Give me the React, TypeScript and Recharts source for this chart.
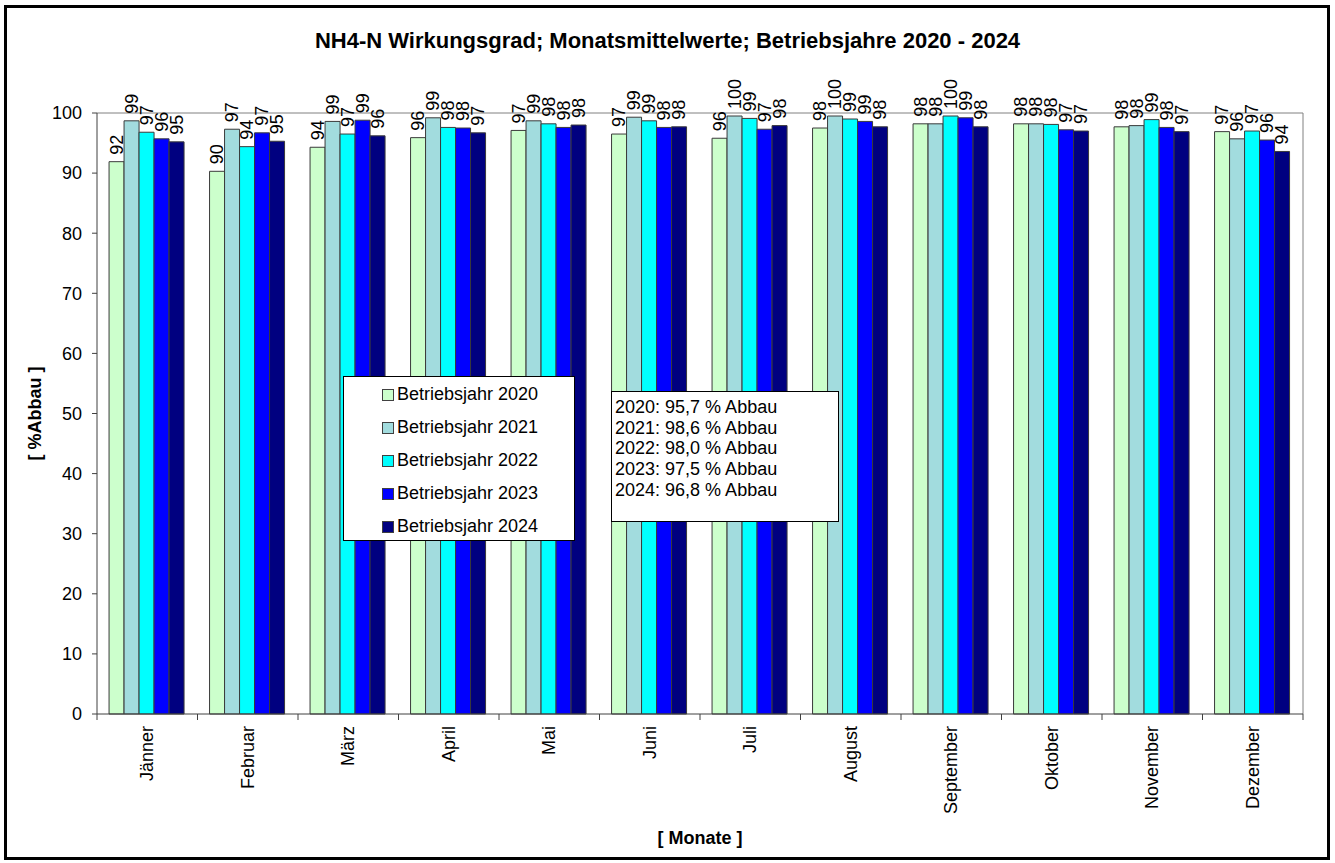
import React from 'react';
import { BarChart, Bar, XAxis, YAxis, CartesianGrid, LabelList } from 'recharts';

const months = ['Jänner', 'Februar', 'März', 'April', 'Mai', 'Juni', 'Juli', 'August', 'September', 'Oktober', 'November', 'Dezember'];

const y2020 = [91.9, 90.3, 94.3, 95.9, 97.1, 96.5, 95.8, 97.5, 98.2, 98.2, 97.7, 96.9];
const y2021 = [98.7, 97.3, 98.6, 99.2, 98.7, 99.3, 99.5, 99.5, 98.2, 98.2, 97.9, 95.7];
const y2022 = [96.8, 94.4, 96.5, 97.6, 98.2, 98.7, 99.1, 99.0, 99.5, 98.1, 98.9, 97.0];
const y2023 = [95.7, 96.7, 98.8, 97.5, 97.6, 97.6, 97.3, 98.6, 99.2, 97.2, 97.6, 95.5];
const y2024 = [95.2, 95.3, 96.2, 96.7, 98.0, 97.7, 97.9, 97.7, 97.7, 97.0, 96.9, 93.6];

const yTicks = [0, 10, 20, 30, 40, 50, 60, 70, 80, 90, 100];

const statYears = ['2020', '2021', '2022', '2023', '2024'];
const statValues = ['95,7', '98,6', '98,0', '97,5', '96,8'];

const SERIES = [
  { key: 'y2020', name: 'Betriebsjahr 2020', color: '#CCFFCC' },
  { key: 'y2021', name: 'Betriebsjahr 2021', color: '#A2DCDE' },
  { key: 'y2022', name: 'Betriebsjahr 2022', color: '#00FFFF' },
  { key: 'y2023', name: 'Betriebsjahr 2023', color: '#0000FF' },
  { key: 'y2024', name: 'Betriebsjahr 2024', color: '#000080' },
];

const data = months.map((m, i) => ({
  month: m,
  y2020: y2020[i],
  y2021: y2021[i],
  y2022: y2022[i],
  y2023: y2023[i],
  y2024: y2024[i],
}));

const FONT = '"Liberation Sans", Arial, sans-serif';

// rotated value label above each bar
const BarValueLabel = (props: any) => {
  const { x, y, width, value } = props;
  const cx = x + width / 2;
  const ty = y - 7;
  return (
    <text
      x={cx}
      y={ty}
      transform={`rotate(-90 ${cx} ${ty})`}
      textAnchor="start"
      dominantBaseline="central"
      fontSize={18}
      fontFamily={FONT}
      fill="#000"
    >
      {Math.round(value)}
    </text>
  );
};

const TICK_SIZE = 6;
const TICK_MARGIN = 2;

const MonthTick = (props: any) => {
  const { x, y, payload, index, visibleTicksCount } = props;
  const half = payload && payload.offset ? payload.offset : 50.25;
  const axisY = y - TICK_SIZE - TICK_MARGIN;
  const isLast = index === visibleTicksCount - 1;
  const ty = y + 4;
  return (
    <g>
      <line x1={x - half} y1={axisY} x2={x - half} y2={axisY + TICK_SIZE} stroke="#404040" />
      {isLast && <line x1={x + half} y1={axisY} x2={x + half} y2={axisY + TICK_SIZE} stroke="#404040" />}
      <text
        x={x}
        y={ty}
        transform={`rotate(-90 ${x} ${ty})`}
        textAnchor="end"
        dominantBaseline="central"
        fontSize={18}
        fontFamily={FONT}
        fill="#000"
      >
        {payload.value}
      </text>
    </g>
  );
};

export default function App() {
  return (
    <div style={{ position: 'relative', width: 1335, height: 863, background: '#fff', fontFamily: FONT }}>
      <style>{`body{margin:0;background:#fff}`}</style>
      <div
        style={{
          position: 'absolute',
          left: 4,
          top: 5,
          width: 1326,
          height: 855,
          border: '3px solid #000',
          boxSizing: 'border-box',
          pointerEvents: 'none',
        }}
      />
      <div
        style={{
          position: 'absolute',
          left: 0,
          width: 1335,
          top: 27,
          textAlign: 'center',
          fontSize: 22,
          fontWeight: 'bold',
          lineHeight: '28px',
        }}
      >
        NH4-N Wirkungsgrad; Monatsmittelwerte; Betriebsjahre 2020 - 2024
      </div>

      <BarChart
        width={1335}
        height={863}
        data={data}
        margin={{ top: 113, right: 32, left: 37, bottom: 14 }}
        barCategoryGap="12%"
        barGap={0}
      >
        <CartesianGrid
          stroke="#808080"
          horizontalCoordinatesGenerator={({ offset }: any) => [offset.top]}
          verticalCoordinatesGenerator={({ offset }: any) => [offset.left + offset.width]}
        />
        <XAxis
          dataKey="month"
          height={135}
          interval={0}
          tickLine={false}
          tickSize={TICK_SIZE}
          tickMargin={TICK_MARGIN}
          axisLine={{ stroke: '#404040' }}
          tick={<MonthTick />}
          label={{
            content: (p: any) => {
              const vb = p.viewBox;
              return (
                <text
                  x={vb.x + vb.width / 2}
                  y={vb.y + vb.height - 5}
                  textAnchor="middle"
                  fontSize={18}
                  fontWeight="bold"
                  fontFamily={FONT}
                  fill="#000"
                >
                  [ Monate ]
                </text>
              );
            },
          }}
        />
        <YAxis
          width={60}
          domain={[0, 100]}
          ticks={yTicks}
          interval={0}
          tickSize={5}
          tickMargin={10}
          axisLine={{ stroke: '#404040' }}
          tickLine={{ stroke: '#404040' }}
          tick={{ fill: '#000', fontSize: 18, fontFamily: FONT }}
          label={{
            content: (p: any) => {
              const vb = p.viewBox;
              const lx = vb.x - 2;
              const ly = vb.y + vb.height / 2;
              return (
                <text
                  x={lx}
                  y={ly}
                  transform={`rotate(-90 ${lx} ${ly})`}
                  textAnchor="middle"
                  dominantBaseline="central"
                  fontSize={18}
                  fontWeight="bold"
                  fontFamily={FONT}
                  fill="#000"
                >
                  [ %Abbau ]
                </text>
              );
            },
          }}
        />
        {SERIES.map((s) => (
          <Bar
            key={s.key}
            dataKey={s.key}
            name={s.name}
            fill={s.color}
            stroke="#3a3a3a"
            strokeWidth={1}
            isAnimationActive={false}
          >
            <LabelList dataKey={s.key} content={<BarValueLabel />} />
          </Bar>
        ))}
      </BarChart>

      {/* legend */}
      <div
        style={{
          position: 'absolute',
          left: 343,
          top: 376,
          width: 232,
          height: 165,
          border: '1px solid #000',
          boxSizing: 'border-box',
          background: '#fff',
          paddingTop: 1,
        }}
      >
        {SERIES.map((s) => (
          <div
            key={s.key}
            style={{ display: 'flex', alignItems: 'center', height: 33, paddingLeft: 38, fontSize: 18 }}
          >
            <span
              style={{
                display: 'inline-block',
                width: 10,
                height: 10,
                background: s.color,
                border: '1px solid #404040',
                marginRight: 3,
              }}
            />
            <span>{s.name}</span>
          </div>
        ))}
      </div>

      {/* yearly averages */}
      <div
        style={{
          position: 'absolute',
          left: 611,
          top: 391,
          width: 228,
          height: 131,
          border: '1px solid #000',
          boxSizing: 'border-box',
          background: '#fff',
          padding: '5px 0 0 3px',
          fontSize: 18,
          lineHeight: '20.7px',
        }}
      >
        {statYears.map((yr, i) => (
          <div key={yr}>
            {yr}: {statValues[i]} % Abbau
          </div>
        ))}
      </div>
    </div>
  );
}
